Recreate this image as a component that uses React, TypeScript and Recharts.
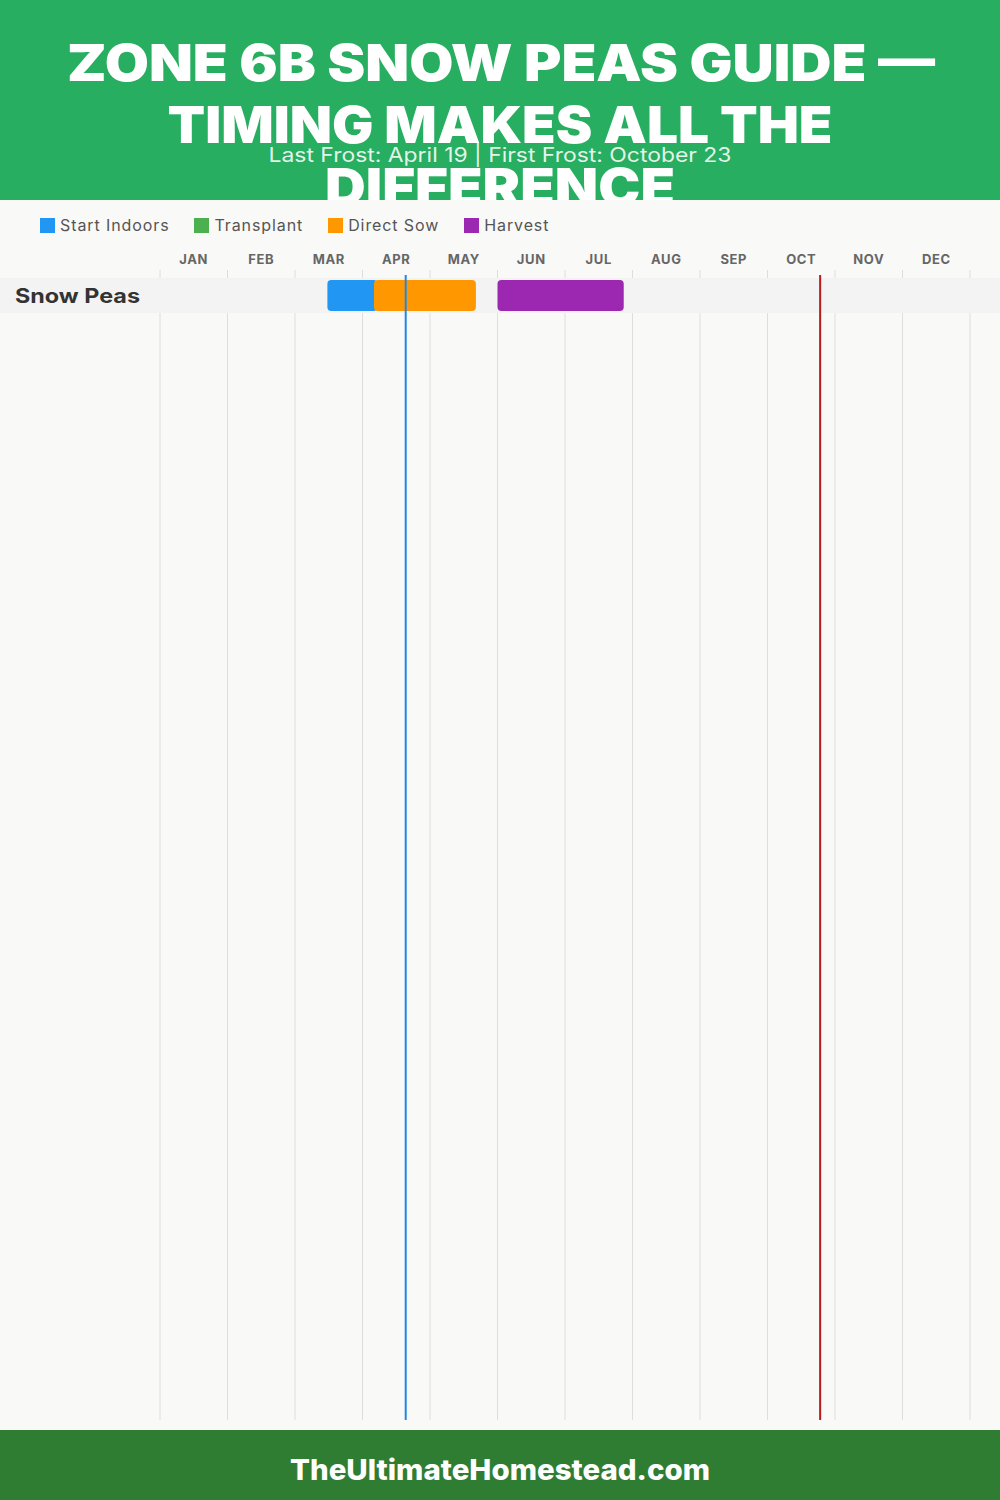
import React from "react";
import {
  BarChart,
  Bar,
  XAxis,
  YAxis,
  CartesianGrid,
  Legend,
  ReferenceArea,
  ReferenceLine,
} from "recharts";

// month labels, positions run from 0 (Jan 1) to 12 (Dec 31)
const months = ["JAN", "FEB", "MAR", "APR", "MAY", "JUN", "JUL", "AUG", "SEP", "OCT", "NOV", "DEC"];
const crops = ["Snow Peas"];

// [start, end] in months, one entry per crop
const startIndoors: ([number, number] | null)[] = [[2.48, 3.22]];
const transplant: ([number, number] | null)[] = [null];
const directSow: ([number, number] | null)[] = [[3.17, 4.68]];
const harvest: ([number, number] | null)[] = [[5.0, 6.87]];

const lastFrost = 3.64; // April 19
const firstFrost = 9.78; // October 23

const series = [
  { key: "startIndoors", name: "Start Indoors", color: "#2196F3" },
  { key: "transplant", name: "Transplant", color: "#4CAF50" },
  { key: "directSow", name: "Direct Sow", color: "#FF9800" },
  { key: "harvest", name: "Harvest", color: "#9C27B0" },
];

const rows = crops.map((crop, i) => ({
  crop,
  startIndoors: startIndoors[i],
  transplant: transplant[i],
  directSow: directSow[i],
  harvest: harvest[i],
}));

const monthTicks = months.map((_, i) => i + 0.5);
const monthEdges = months.map((_, i) => i).concat(months.length);

const FONT = "Inter, 'Open Sans', sans-serif";

function LegendContent({ payload }: any) {
  // keep the series order, not the alphabetical one
  const order = series.map((s) => s.name);
  const items = [...(payload || [])].sort((a: any, b: any) => order.indexOf(a.value) - order.indexOf(b.value));
  return (
    <div style={{ display: "flex", alignItems: "center", height: 30, paddingLeft: 40 }}>
      {items.map((e: any) => (
        <div key={e.value} style={{ display: "flex", alignItems: "center", marginRight: 25 }}>
          <span style={{ display: "inline-block", width: 15, height: 15, background: e.color, marginRight: 5 }} />
          <span style={{ fontSize: 16, color: "#555", fontFamily: FONT, letterSpacing: 0.9 }}>{e.value}</span>
        </div>
      ))}
    </div>
  );
}

function CropTick({ y, payload }: any) {
  return (
    <text
      x={15}
      y={y}
      dy={7}
      fontSize={20}
      fontWeight={700}
      fill="#333"
      fontFamily={FONT}
      textLength={125}
      lengthAdjust="spacingAndGlyphs"
    >
      {payload.value}
    </text>
  );
}

function RowBand({ y, height }: any) {
  return <rect x={0} y={y} width={1000} height={height} fill="#f3f3f3" />;
}

function FrostLine(color: string) {
  return (p: any) => {
    const top = Math.min(p.y1, p.y2);
    const bottom = Math.max(p.y1, p.y2);
    return <line x1={p.x1} x2={p.x2} y1={top + 5} y2={bottom} stroke={color} strokeWidth={2} />;
  };
}

export default function App() {
  return (
    <div
      style={{
        position: "absolute",
        left: 0,
        top: 0,
        width: 1000,
        height: 1500,
        background: "#f9f9f8",
        overflow: "hidden",
        fontFamily: FONT,
      }}
    >
      <div style={{ position: "absolute", left: 0, top: 0, width: 1000, height: 200, background: "#27AE60" }}>
        <svg width={1000} height={200}>
          <g fill="#fff" fontFamily={FONT} fontWeight={900} fontSize={51} textAnchor="middle">
            <text x={501} y={81} textLength={868} lengthAdjust="spacingAndGlyphs">
              ZONE 6B SNOW PEAS GUIDE —
            </text>
            <text x={500} y={143} textLength={665} lengthAdjust="spacingAndGlyphs">
              TIMING MAKES ALL THE
            </text>
            <text x={500} y={205} textLength={350} lengthAdjust="spacingAndGlyphs">
              DIFFERENCE
            </text>
          </g>
          <text
            x={500}
            y={162}
            textAnchor="middle"
            fontFamily={FONT}
            fontSize={20}
            fill="rgba(255,255,255,0.88)"
            textLength={463}
            lengthAdjust="spacingAndGlyphs"
          >
            Last Frost: April 19 | First Frost: October 23
          </text>
        </svg>
      </div>

      <div style={{ position: "absolute", left: 0, top: 200, width: 1000, height: 1230 }}>
        <BarChart
          width={1000}
          height={1230}
          data={rows}
          layout="vertical"
          margin={{ top: 10, right: 30, bottom: 10, left: 0 }}
          barSize={31}
          barGap={-31}
        >
          <Legend
            verticalAlign="top"
            align="left"
            content={<LegendContent />}
            wrapperStyle={{ top: 10, left: 0 }}
          />
          <CartesianGrid
            horizontal={false}
            stroke="#dedede"
            verticalCoordinatesGenerator={({ xAxis, offset }: any) =>
              monthEdges.map((m) =>
                typeof xAxis?.scale === "function"
                  ? xAxis.scale(m)
                  : offset.left + (m / months.length) * offset.width
              )
            }
          />
          <XAxis
            type="number"
            orientation="top"
            domain={[0, 12]}
            ticks={monthTicks}
            interval={0}
            height={30}
            tickFormatter={(v: number) => months[Math.floor(v)]}
            axisLine={false}
            tickLine={false}
            tickSize={4}
            tickMargin={2}
            tick={{ fontSize: 13, fontWeight: 700, fill: "#666", fontFamily: FONT, letterSpacing: 0.6 }}
            allowDataOverflow
          />
          <YAxis
            type="category"
            dataKey="crop"
            width={160}
            padding={{ top: 8, bottom: 1107 }}
            axisLine={false}
            tickLine={false}
            tick={<CropTick />}
          />
          <ReferenceArea y1="Snow Peas" y2="Snow Peas" shape={<RowBand />} ifOverflow="visible" />
          {series.map((s) => (
            <Bar
              key={s.key}
              dataKey={s.key}
              name={s.name}
              fill={s.color}
              radius={4}
              isAnimationActive={false}
            />
          ))}
          <ReferenceLine x={lastFrost} stroke="#1E88E5" shape={FrostLine("#1E88E5")} />
          <ReferenceLine x={firstFrost} stroke="#B71C1C" shape={FrostLine("#B71C1C")} />
        </BarChart>
      </div>

      <div style={{ position: "absolute", left: 0, top: 1430, width: 1000, height: 70, background: "#2E7D32" }}>
        <svg width={1000} height={70}>
          <text
            x={500}
            y={50}
            textAnchor="middle"
            fill="#fff"
            fontFamily={FONT}
            fontWeight={800}
            fontSize={28}
            textLength={420}
            lengthAdjust="spacingAndGlyphs"
          >
            TheUltimateHomestead.com
          </text>
        </svg>
      </div>
    </div>
  );
}
